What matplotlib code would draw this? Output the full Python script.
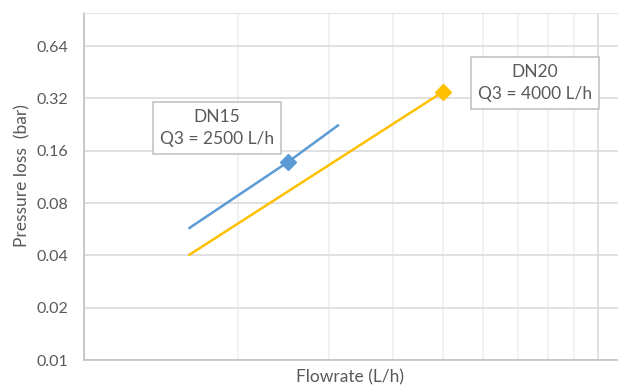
import matplotlib.pyplot as plt
from matplotlib.ticker import FixedLocator, NullFormatter, NullLocator

plt.rcParams['font.family'] = ['Lato', 'DejaVu Sans']

# DN15 curve (flow in L/h, pressure loss in bar)
dn15_flow = [1600, 2500, 3140]
dn15_loss = [0.057, 0.138, 0.226]
dn15_mark_flow = [2500]
dn15_mark_loss = [0.138]

# DN20 curve
dn20_flow = [1600, 5000]
dn20_loss = [0.040, 0.349]
dn20_mark_flow = [5000]
dn20_mark_loss = [0.349]

y_ticks = [0.01, 0.02, 0.04, 0.08, 0.16, 0.32, 0.64]
y_labels = ['0.01', '0.02', '0.04', '0.08', '0.16', '0.32', '0.64']
x_major = [1000, 10000]
x_minor = [2000, 3000, 4000, 5000, 6000, 7000, 8000, 9000]

blue = '#5B9BD5'
gold = '#FFC000'
text_c = '#595959'

W, H = 618, 385
fig = plt.figure(figsize=(W / 100, H / 100), dpi=100)
left, right, top, bottom = 83.5, 618, 12.5, 360
ax = fig.add_axes([left / W, 1 - bottom / H, (right - left) / W, (bottom - top) / H])

ax.set_xscale('log')
ax.set_yscale('log', base=2)
ax.set_xlim(1000, 1000 * 10 ** ((right - left) / 514))
ax.set_ylim(0.01, 1.0)

# grid
ax.yaxis.set_major_locator(FixedLocator(y_ticks))
ax.set_yticklabels(y_labels)
ax.yaxis.set_minor_locator(NullLocator())
ax.xaxis.set_major_locator(FixedLocator(x_major))
ax.xaxis.set_minor_locator(FixedLocator(x_minor))
ax.xaxis.set_major_formatter(NullFormatter())
ax.xaxis.set_minor_formatter(NullFormatter())
ax.grid(True, which='major', axis='y', color='#D9D9D9', linewidth=1.1)
ax.grid(True, which='major', axis='x', color='#D9D9D9', linewidth=1.1)
ax.grid(True, which='minor', axis='x', color='#EDEDED', linewidth=1.1)
ax.tick_params(which='both', length=0, labelsize=11.5, labelcolor=text_c, pad=11)

for side in ['left', 'bottom']:
    ax.spines[side].set_color('#BFBFBF')
    ax.spines[side].set_linewidth(1.1)
ax.spines['top'].set_color('#E6E6E6')
ax.spines['right'].set_visible(False)
ax.set_axisbelow(True)

ax.plot(dn15_flow, dn15_loss, color=blue, linewidth=1.8, solid_capstyle='butt')
ax.plot(dn15_mark_flow, dn15_mark_loss, 'D', color=blue, markersize=8)
ax.plot(dn20_flow, dn20_loss, color=gold, linewidth=1.8, solid_capstyle='butt')
ax.plot(dn20_mark_flow, dn20_mark_loss, 'D', color=gold, markersize=8)

box = dict(boxstyle='square,pad=0.4', facecolor='white', edgecolor='#BFBFBF', linewidth=1.1)
fig.text(217 / W, 1 - 128 / H, 'DN15\nQ3 = 2500 L/h', ha='center', va='center',
         fontsize=12.5, color=text_c, linespacing=1.45, bbox=box)
fig.text(535 / W, 1 - 83 / H, 'DN20\nQ3 = 4000 L/h', ha='center', va='center',
         fontsize=12.5, color=text_c, linespacing=1.45, bbox=box)

fig.text(350 / W, 1 - 377 / H, 'Flowrate (L/h)', ha='center', va='center',
         fontsize=12.5, color=text_c)
fig.text(22 / W, 1 - 176 / H, 'Pressure loss  (bar)', ha='center', va='center',
         rotation=90, fontsize=12.5, color=text_c)

fig.savefig('out.png', dpi=100)
